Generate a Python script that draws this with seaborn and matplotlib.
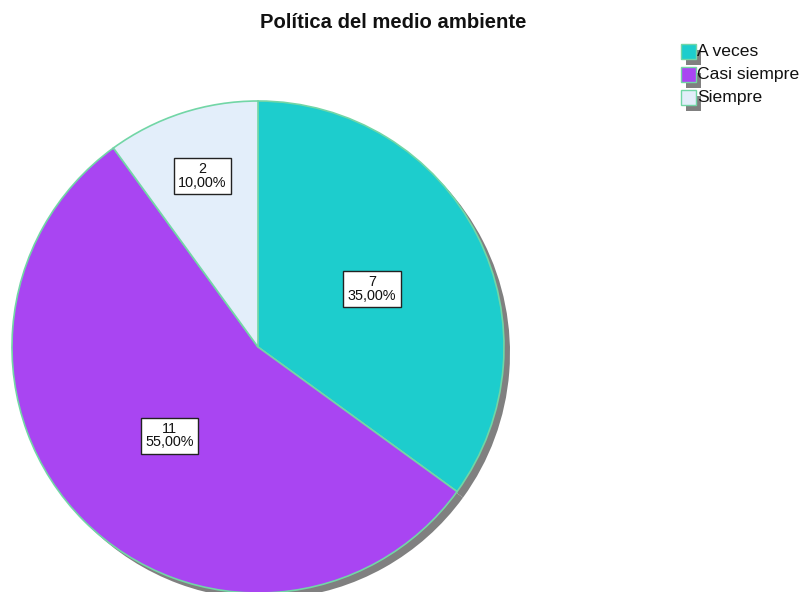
import matplotlib
matplotlib.use("Agg")
import matplotlib.pyplot as plt
import seaborn as sns
import numpy as np
from matplotlib.patches import Rectangle

sns.set_theme(style="white")
plt.rcParams['font.family'] = ['Liberation Sans', 'DejaVu Sans']

# Data
categories = ["A veces", "Casi siempre", "Siempre"]
counts = [7, 11, 2]
percents = [35.00, 55.00, 10.00]
colors = ["#1dcdcd", "#a945f2", "#e3eefa"]
title = "Política del medio ambiente"

W, H = 804, 592
fig = plt.figure(figsize=(W / 100, H / 100), dpi=100)
ax = fig.add_axes([0, 0, 1, 1])

cx, cy, r = 258, H - 347, 246
edge = "#72d6a6"

# shadow
ax.pie(counts, startangle=90, counterclock=False, radius=r,
       center=(cx + 6, cy - 6), colors=["#808080"] * 3,
       wedgeprops=dict(linewidth=0), frame=True)
wedges, _ = ax.pie(counts, startangle=90, counterclock=False, radius=r,
                   center=(cx, cy), colors=colors,
                   wedgeprops=dict(edgecolor=edge, linewidth=1.2), frame=True)
ax.set_xlim(0, W)
ax.set_ylim(0, H)
ax.set_aspect("equal")
ax.axis("off")

label_frac = [0.52, 0.51, 0.73]
for w, c, p, f in zip(wedges, counts, percents, label_frac):
    ang = np.deg2rad((w.theta1 + w.theta2) / 2)
    x = cx + r * f * np.cos(ang)
    y = cy + r * f * np.sin(ang)
    txt = f"{c}\n{p:.2f}%".replace(".", ",")
    ax.text(x, y, txt, ha="center", va="center", fontsize=10.4, linespacing=0.95,
            color="#111111",
            bbox=dict(boxstyle="square,pad=0.3", fc="white", ec="#222222", lw=1))

# title
ax.text(393, H - 22, title, ha="center", va="center", fontsize=14.6,
        fontweight="bold", color="#111111")

# legend
lx, ly0, s, step = 681, H - 44, 15, 23
for i, (cat, col) in enumerate(zip(categories, colors)):
    y = ly0 - i * step
    ax.add_patch(Rectangle((lx + 5, y - s - 6), s, s, fc="#808080", ec="none"))
    ax.add_patch(Rectangle((lx, y - s), s, s, fc=col, ec=edge, lw=1))
    ax.text(lx + s + 1, y - s / 2, cat, ha="left", va="center", fontsize=12.6,
            color="#111111")

fig.savefig("out.png", dpi=100)
